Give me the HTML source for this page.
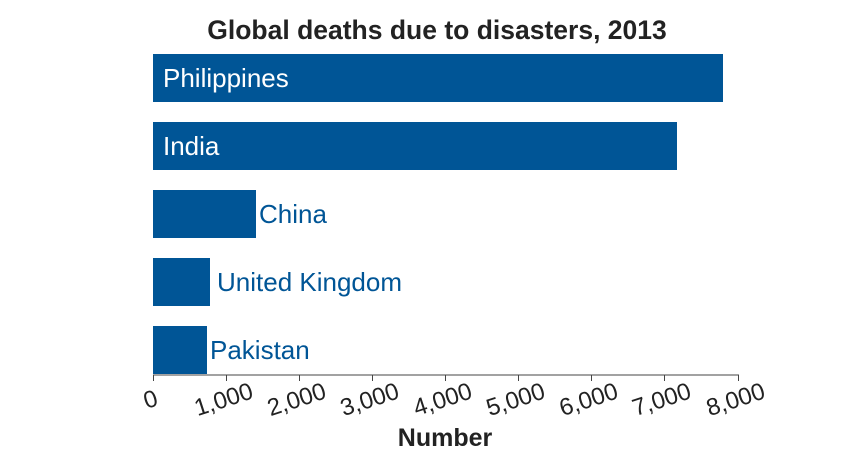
<!DOCTYPE html>
<html><head><meta charset="utf-8"><style>
body{margin:0;background:#fff;}
svg{display:block;font-family:"Liberation Sans",sans-serif;}
</style></head><body>
<svg width="860" height="460" xmlns="http://www.w3.org/2000/svg">
<text x="437" y="39" text-anchor="middle" font-size="26.5" font-weight="bold" fill="#222">Global deaths due to disasters, 2013</text>
<g fill="#005596">
<rect x="153" y="54" width="570" height="48"/>
<rect x="153" y="122" width="524" height="48"/>
<rect x="153" y="190" width="103" height="48"/>
<rect x="153" y="258" width="57" height="48"/>
<rect x="153" y="326" width="54" height="48"/>
</g>
<g font-size="26">
<text x="163" y="87" fill="#fff">Philippines</text>
<text x="163" y="155" fill="#fff">India</text>
<text x="259" y="223" fill="#005596">China</text>
<text x="217" y="291" fill="#005596">United Kingdom</text>
<text x="210" y="359" fill="#005596">Pakistan</text>
</g>
<line x1="153" y1="375" x2="739" y2="375" stroke="#444" stroke-width="1"/>
<g stroke="#444" stroke-width="1">
<line x1="153.5" y1="375" x2="153.5" y2="381"/>
<line x1="226.5" y1="375" x2="226.5" y2="381"/>
<line x1="299.5" y1="375" x2="299.5" y2="381"/>
<line x1="372.5" y1="375" x2="372.5" y2="381"/>
<line x1="445.5" y1="375" x2="445.5" y2="381"/>
<line x1="518.5" y1="375" x2="518.5" y2="381"/>
<line x1="591.5" y1="375" x2="591.5" y2="381"/>
<line x1="664.5" y1="375" x2="664.5" y2="381"/>
<line x1="738.5" y1="375" x2="738.5" y2="381"/>
</g>
<g font-size="24" fill="#222" text-anchor="middle">
<text transform="translate(153,407) rotate(-18)">0</text>
<text transform="translate(226,407) rotate(-18)">1,000</text>
<text transform="translate(299,407) rotate(-18)">2,000</text>
<text transform="translate(372,407) rotate(-18)">3,000</text>
<text transform="translate(445,407) rotate(-18)">4,000</text>
<text transform="translate(518,407) rotate(-18)">5,000</text>
<text transform="translate(591,407) rotate(-18)">6,000</text>
<text transform="translate(664,407) rotate(-18)">7,000</text>
<text transform="translate(738,407) rotate(-18)">8,000</text>
</g>
<text x="445" y="446" text-anchor="middle" font-size="25" font-weight="bold" fill="#222">Number</text>
</svg>
</body></html>
